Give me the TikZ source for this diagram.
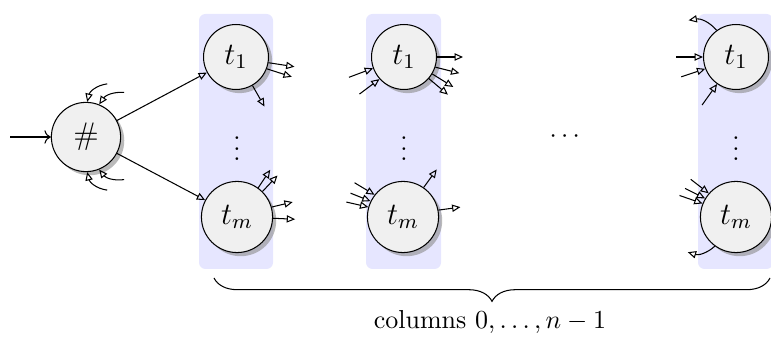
\documentclass[tikz,border=0pt]{standalone}
\usepackage{amsmath,amssymb}
\usepackage{tikz}
\usetikzlibrary{arrows.meta,shadows,decorations.pathreplacing}
\definecolor{colfill}{HTML}{E6E6FF}
\definecolor{cellfill}{HTML}{F0F0F0}
\tikzset{
  st/.style={circle,draw,fill=cellfill,font=\large,inner sep=4.3pt,
    drop shadow={shadow xshift=1.4pt,shadow yshift=-1.4pt,fill=black!45,opacity=0.6}},
  colbg/.style={fill=colfill,rounded corners=2.5pt},
  arout/.style={-{Triangle[open,length=3.2pt,width=2.8pt]},thin},
  arin/.style={{Triangle[open,length=3.2pt,width=2.8pt]}-,thin},
  dts/.style={inner sep=0pt},
  lbl/.style={font=\normalsize},
}
\begin{document}
\begin{tikzpicture}[x=0.385pt,y=-0.385pt]
  \useasboundingbox (0,0) rectangle (771,341);
  % column backgrounds
  \fill[colbg] (199,14) rectangle (273,269);
  \fill[colbg] (366,14) rectangle (441,269);
  \fill[colbg] (698,14) rectangle (773,269);

  \node[st] (hash) at (86,137) {$\#$};
  \node[st] (a1) at (236,57) {$t_1$};
  \node[st] (am) at (237,217) {$t_m$};
  \node[dts] (adots) at (237,141) {$\vdots$};
  \node[st] (b1) at (404,57) {$t_1$};
  \node[st] (bm) at (403,217) {$t_m$};
  \node[dts] (bdots) at (404,141) {$\vdots$};
  \node[dts] (cdots) at (567,137) {$\cdots$};
  \node[st] (d1) at (736,57) {$t_1$};
  \node[st] (dm) at (736,217) {$t_m$};
  \node[dts] (ddots) at (736,141) {$\vdots$};

  % start state
  \coordinate (src) at (10,137);
  \draw[->] (src) -- (hash);
  \draw[arin] (hash.88) to[bend left=35] ++(20,-18);
  \draw[arin] (hash.68) to[bend left=30] ++(25,-12);
  \draw[arin] (hash.-88) to[bend right=35] ++(20,18);
  \draw[arin] (hash.-68) to[bend right=30] ++(25,10);
  \draw[arout] (hash) -- (a1);
  \draw[arout] (hash) -- (am);

  % column 0
  \draw[arout] (a1.-10) -- ++(26,4);
  \draw[arout] (a1.-21) -- ++(25,8);
  \draw[arout] (a1.-60) -- ++(12,21);
  \draw[arout] (am.54) -- ++(12,-18);
  \draw[arout] (am.45) -- ++(15,-16);
  \draw[arout] (am.16) -- ++(21,-5);
  \draw[arout] (am.-2) -- ++(22,1);

  % column 1
  \draw[arin] (b1.200) -- ++(-24,9);
  \draw[arin] (b1.222) -- ++(-20,15);
  \draw[arout] (b1.0) -- ++(26,0);
  \draw[arout] (b1.-18) -- ++(24,6);
  \draw[arout] (b1.-31) -- ++(21,13);
  \draw[arout] (b1.-41) -- ++(19,16);
  \draw[arin] (bm.142) -- ++(-20,-12);
  \draw[arin] (bm.154) -- ++(-20,-8);
  \draw[arin] (bm.164) -- ++(-22,-5);
  \draw[arout] (bm.55) -- ++(13,-18);
  \draw[arout] (bm.11) -- ++(22,-3);

  % last column
  \draw[arout] (d1.126) to[bend right=30] ++(-28,-10);
  \draw[arin] (d1.180) -- ++(-27,0);
  \draw[arin] (d1.201) -- ++(-24,8);
  \draw[arin] (d1.235) -- ++(-15,21);
  \draw[arin] (dm.139) -- ++(-18,-14);
  \draw[arin] (dm.149) -- ++(-20,-10);
  \draw[arin] (dm.158) -- ++(-23,-8);
  \draw[arout] (dm.234) to[bend left=30] ++(-27,6);

  % brace
  \coordinate (bl) at (214,278);
  \coordinate (br) at (770,278);
  \draw[decorate,decoration={brace,mirror,amplitude=9pt}] (bl) -- (br);
  \node[lbl] (cap) at (490,322) {columns $0,\dots,n-1$};
\end{tikzpicture}
\end{document}
